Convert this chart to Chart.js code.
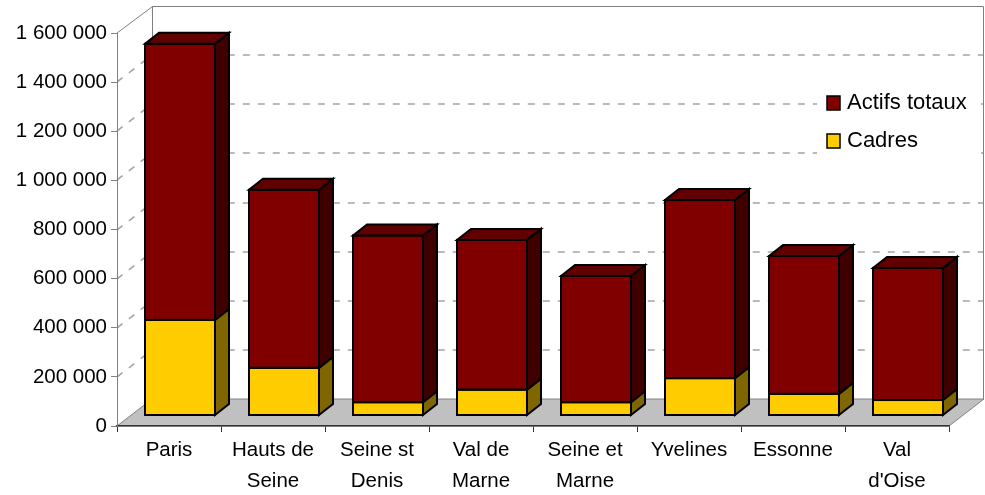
<!DOCTYPE html>
<html>
<head>
<meta charset="utf-8">
<script src="https://cdn.jsdelivr.net/npm/chart.js@4.4.1/dist/chart.umd.min.js"></script>
<style>
  html, body { margin: 0; padding: 0; background: #fff; }
  #wrap { width: 985px; height: 495px; }
</style>
</head>
<body>
<div id="wrap"><canvas id="actifs" width="985" height="495"></canvas></div>
<script>
// categories and values
const departements = ['Paris', ['Hauts de', 'Seine'], ['Seine st', 'Denis'], ['Val de', 'Marne'],
  ['Seine et', 'Marne'], 'Yvelines', 'Essonne', ['Val', "d'Oise"]];
const cadres = [389000, 194000, 54000, 105000, 54000, 152000, 88000, 63000];
const actifsTotaux = [1124000, 725000, 679000, 610000, 514000, 725000, 561000, 538000];
const yMax = 1600000;
const yStep = 200000;

const FONT = "'Liberation Sans', Arial, sans-serif";
// 3d offsets (px)
const WALL = { x: 35, y: -27 };
const SHIFT = { x: 11, y: -10.5 };
const DEPTH = { x: 14, y: -11 };

function formatFr(v) {
  return String(v).replace(/\B(?=(\d{3})+(?!\d))/g, ' ');
}

function poly(ctx, pts, fill) {
  ctx.beginPath();
  ctx.moveTo(pts[0][0], pts[0][1]);
  for (let i = 1; i < pts.length; i++) ctx.lineTo(pts[i][0], pts[i][1]);
  ctx.closePath();
  ctx.fillStyle = fill;
  ctx.fill();
  ctx.stroke();
}

// back wall, floor, dashed grid and legend
const walls = {
  id: 'walls',
  beforeDraw(chart) {
    const { ctx, chartArea: a, scales: { y } } = chart;
    ctx.save();
    ctx.lineWidth = 1;
    ctx.strokeStyle = '#808080';
    poly(ctx, [[a.left, a.bottom], [a.right, a.bottom], [a.right + WALL.x, a.bottom + WALL.y],
      [a.left + WALL.x, a.bottom + WALL.y]], '#c0c0c0');

    ctx.setLineDash([7, 8]);
    ctx.lineWidth = 1.6;
    ctx.strokeStyle = '#a4a4a4';
    y.ticks.forEach(t => {
      if (t.value === 0 || t.value === y.max) return;
      const py = Math.round(y.getPixelForValue(t.value));
      ctx.beginPath();
      ctx.moveTo(a.left, py);
      ctx.lineTo(a.left + WALL.x, py + WALL.y);
      ctx.lineTo(a.right + WALL.x, py + WALL.y);
      ctx.stroke();
    });
    ctx.setLineDash([]);

    ctx.lineWidth = 1;
    ctx.strokeStyle = '#808080';
    const bl = a.left + WALL.x + 0.5, br = a.right + WALL.x - 0.5, bt = a.top + WALL.y + 0.5;
    ctx.beginPath();
    ctx.moveTo(a.left, a.top);
    ctx.lineTo(bl, bt);
    ctx.lineTo(br, bt);
    ctx.lineTo(br, a.bottom + WALL.y);
    ctx.moveTo(bl, bt);
    ctx.lineTo(bl, a.bottom + WALL.y);
    ctx.stroke();

    // legend
    ctx.fillStyle = '#fff';
    ctx.fillRect(817, 88, 164, 72);
    ctx.font = '22px ' + FONT;
    ctx.textBaseline = 'middle';
    ctx.lineWidth = 1.5;
    ctx.strokeStyle = '#000';
    const items = chart.data.datasets.slice().reverse();
    items.forEach((ds, i) => {
      const ty = 96 + i * 38;
      ctx.fillStyle = ds.backgroundColor;
      ctx.fillRect(827, ty, 13, 14);
      ctx.strokeRect(827, ty, 13, 14);
      ctx.fillStyle = '#000';
      ctx.fillText(ds.label, 847, ty + 7);
    });
    ctx.restore();
  }
};

// move bars into the box and give them top and side faces
const bars3d = {
  id: 'bars3d',
  beforeDatasetsDraw(chart) {
    chart.ctx.save();
    chart.ctx.translate(SHIFT.x, SHIFT.y);
  },
  afterDatasetsDraw(chart) {
    const ctx = chart.ctx;
    const last = chart.data.datasets.length - 1;
    ctx.lineWidth = 2;
    ctx.lineJoin = 'miter';
    ctx.strokeStyle = '#000';
    chart.data.datasets.forEach((ds, i) => {
      chart.getDatasetMeta(i).data.forEach(bar => {
        const { x, y, base, width } = bar.getProps(['x', 'y', 'base', 'width'], true);
        const l = x - width / 2, r = x + width / 2;
        ctx.strokeRect(l, y, width, base - y);
        poly(ctx, [[r, y], [r + DEPTH.x, y + DEPTH.y], [r + DEPTH.x, base + DEPTH.y], [r, base]], ds.sideColor);
        if (i === last) {
          poly(ctx, [[l, y], [r, y], [r + DEPTH.x, y + DEPTH.y], [l + DEPTH.x, y + DEPTH.y]], ds.topColor);
        }
      });
    });
    ctx.restore();
  }
};

new Chart(document.getElementById('actifs'), {
  type: 'bar',
  data: {
    labels: departements,
    datasets: [
      {
        label: 'Cadres',
        data: cadres,
        backgroundColor: '#ffcc00',
        sideColor: '#806600',
        topColor: '#a88600',
        borderWidth: 0,
        clip: false
      },
      {
        label: 'Actifs totaux',
        data: actifsTotaux,
        backgroundColor: '#800000',
        sideColor: '#400000',
        topColor: '#600000',
        borderWidth: 0,
        clip: false
      }
    ]
  },
  options: {
    responsive: false,
    animation: false,
    layout: { padding: { top: 33, right: 36, left: 0, bottom: 0 } },
    datasets: { bar: { categoryPercentage: 1, barPercentage: 0.673 } },
    plugins: {
      legend: { display: false },
      tooltip: { enabled: false }
    },
    scales: {
      x: {
        stacked: true,
        afterFit(scale) { scale.height = 69; },
        border: { display: true, color: '#333', width: 1.5 },
        grid: { offset: true, drawOnChartArea: false, drawTicks: true, tickLength: 6, color: '#333' },
        ticks: {
          autoSkip: false, maxRotation: 0, minRotation: 0, padding: 3, color: '#000',
          font: { family: FONT, size: 20.5, lineHeight: 1.5 }
        }
      },
      y: {
        stacked: true,
        min: 0,
        max: yMax,
        afterFit(scale) { scale.width = 117; },
        border: { display: true, color: '#808080', width: 1 },
        grid: { drawOnChartArea: false, drawTicks: true, tickLength: 6, color: '#808080' },
        ticks: {
          stepSize: yStep, padding: 4, color: '#000',
          font: { family: FONT, size: 20.5 },
          callback: v => formatFr(v)
        }
      }
    }
  },
  plugins: [walls, bars3d]
});
</script>
</body>
</html>
